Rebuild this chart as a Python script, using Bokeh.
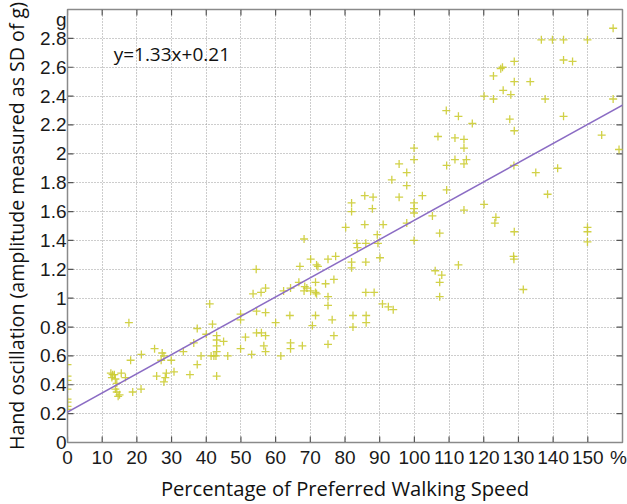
from bokeh.plotting import figure
from bokeh.models import Range1d, FixedTicker, Slope, Label, ColumnDataSource
from bokeh.embed import file_html
from bokeh.resources import INLINE

# Percentage of preferred walking speed (%)
speed = [
    0, 0, 0, 0, 0, 0, 0, 0,
    12.5, 13.0, 13.5, 12.8, 13.8, 14.2, 13.8, 14.2, 14.6, 15.0, 15.5, 16.7, 17.7, 18.2, 18.8,
    21.3, 21.2, 25.1, 25.7, 27.3, 27.8, 27.0, 28.5, 28.2, 27.8, 29.9,
    30.7, 33.4, 35.3, 36.4, 37.4, 37.4, 38.5, 40.0,
    41.0, 41.8, 41.4, 42.2, 42.8, 43.0, 43.0, 43.0, 43.0, 43.0, 45.0, 46.2, 49.9, 49.9, 49.9,
    51.3, 53.5, 54.4, 54.5, 54.5, 55.8, 55.9, 57.1, 57.1, 57.1, 56.6, 57.1, 53.1,
    60.0, 61.5, 62.3, 64.3, 64.1, 64.3, 64.3, 66.7, 67.0, 67.7, 68.2, 68.2, 68.4, 69.0,
    70.1, 70.1, 70.6, 71.5, 71.5, 71.5, 71.8, 72.2, 71.8, 74.4, 75.1, 75.1, 75.1, 75.1, 76.3, 76.8, 76.8, 77.3,
    80.2, 81.9, 81.9, 81.9, 81.9, 82.3, 82.3, 83.4, 83.6, 85.7, 85.7, 86.0, 86.0, 86.0, 86.1, 86.1, 87.9, 88.1, 88.4, 89.3, 89.5,
    90.1, 91.0, 90.8, 92.5, 93.9, 93.5, 95.6, 95.6, 97.8, 97.8, 97.8, 99.9, 99.9, 99.9, 99.9, 99.9, 99.9,
    102.3, 105.2, 106.0, 106.8, 107.3, 107.9, 107.3, 107.3, 109.2, 109.3, 109.3,
    111.7, 111.7, 112.7, 112.7, 114.3, 114.3, 114.3, 115.0, 114.3, 116.7,
    120.1, 120.1, 122.8, 122.8, 123.5, 123.2, 125.4, 124.9, 125.6, 127.5, 127.8, 128.8, 128.8, 128.8, 128.7, 128.8, 128.6, 128.7,
    131.4, 133.4, 135.0, 136.6, 137.7, 138.4, 139.8,
    141.3, 143.0, 143.0, 143.0, 145.6, 149.9, 149.9, 149.9, 149.9, 154.0, 157.3, 157.3, 159.0,
]

# Hand oscillation amplitude (SD of g)
amplitude = [
    0.54, 0.46, 0.43, 0.37, 0.30, 0.28, 0.25, 0.23,
    0.48, 0.47, 0.47, 0.45, 0.44, 0.41, 0.37, 0.35, 0.32, 0.33, 0.48, 0.45, 0.83, 0.57, 0.35,
    0.61, 0.37, 0.65, 0.46, 0.62, 0.60, 0.57, 0.48, 0.45, 0.42, 0.57,
    0.49, 0.63, 0.47, 0.69, 0.79, 0.54, 0.60, 0.75,
    0.96, 0.82, 0.60, 0.60, 0.60, 0.74, 0.71, 0.67, 0.63, 0.46, 0.70, 0.60, 0.89, 0.85, 0.65,
    0.73, 1.03, 1.20, 0.91, 0.76, 1.04, 0.76, 1.07, 0.90, 0.74, 0.67, 0.63, 0.61,
    0.83, 0.60, 1.05, 1.07, 0.88, 0.69, 0.65, 1.11, 1.22, 0.67, 1.41, 1.05, 1.08, 1.07,
    1.27, 1.05, 0.81, 1.11, 1.04, 0.88, 1.23, 1.22, 1.03, 1.10, 1.27, 1.01, 0.95, 0.68, 0.85, 1.13, 0.74, 1.29,
    1.49, 1.66, 1.60, 1.25, 1.21, 0.88, 0.80, 1.38, 1.35, 1.71, 1.51, 1.38, 1.25, 1.04, 0.88, 0.83, 1.62, 1.70, 1.04, 1.44, 1.38,
    1.28, 1.51, 0.96, 0.94, 0.92, 1.82, 1.93, 1.70, 1.87, 1.78, 1.52, 2.04, 1.96, 1.66, 1.62, 1.59, 1.40,
    1.71, 1.57, 1.19, 2.12, 1.45, 1.16, 1.11, 1.01, 2.30, 1.92, 1.75,
    2.11, 1.96, 2.26, 1.23, 2.10, 2.04, 1.93, 1.96, 1.61, 2.21,
    2.40, 1.65, 2.54, 2.38, 1.56, 1.52, 2.60, 2.59, 2.44, 2.24, 2.41, 2.64, 2.50, 2.16, 1.92, 1.46, 1.29, 1.27,
    1.06, 2.50, 1.87, 2.79, 2.38, 1.72, 2.79,
    1.90, 2.79, 2.65, 2.26, 2.64, 2.79, 1.49, 1.46, 1.39, 2.13, 2.87, 2.38, 2.03,
]

# Regression fit: y = 1.33 x + 0.21 (x as a fraction of preferred speed)
fit_slope = 1.33
fit_intercept = 0.21
fit_label = "y=1.33x+0.21"

x_ticks = [0, 10, 20, 30, 40, 50, 60, 70, 80, 90, 100, 110, 120, 130, 140, 150]
y_ticks = [0, 0.2, 0.4, 0.6, 0.8, 1.0, 1.2, 1.4, 1.6, 1.8, 2.0, 2.2, 2.4, 2.6, 2.8]
y_tick_labels = ["0", "0.2", "0.4", "0.6", "0.8", "1", "1.2", "1.4", "1.6", "1.8",
                 "2", "2.2", "2.4", "2.6", "2.8"]
x_unit, x_unit_at = "%", 158.8
y_unit, y_unit_at = "g", 2.93

X_MIN, X_MAX, Y_MIN, Y_MAX = 0, 160, 0, 3

TICK_FONT = "'Liberation Sans Narrow', 'Liberation Sans', sans-serif"
TITLE_FONT = "Open Sans"
FRAME = "#8a8a8a"
TICK_COLOR = "#555555"

p = figure(width=627, height=504, output_backend="svg", toolbar_location=None,
           x_range=Range1d(X_MIN, X_MAX), y_range=Range1d(Y_MIN, Y_MAX))
p.min_border_left = 67
p.min_border_right = 5
p.min_border_top = 9
p.min_border_bottom = 57

p.outline_line_color = FRAME
p.outline_line_width = 1.5

for ax in (p.xaxis[0], p.yaxis[0]):
    ax.axis_line_color = FRAME
    ax.major_tick_line_color = None
    ax.minor_tick_line_color = None
    ax.major_tick_in = 0
    ax.major_tick_out = 0
    ax.major_label_text_font = TICK_FONT
    ax.major_label_text_font_size = "19px"
    ax.major_label_text_color = "#1a1a1a"
    ax.axis_label_text_font = TITLE_FONT
    ax.axis_label_text_font_style = "normal"
    ax.axis_label_text_color = "#111111"

p.xaxis.ticker = FixedTicker(ticks=x_ticks + [x_unit_at])
p.xaxis.major_label_overrides = {x_unit_at: x_unit}
p.xaxis.axis_label = "Percentage of Preferred Walking Speed"
p.xaxis.axis_label_text_font_size = "20.2px"
p.xaxis.major_label_standoff = 4
p.xaxis.axis_label_standoff = 3

p.yaxis.ticker = FixedTicker(ticks=y_ticks + [y_unit_at])
overrides = dict(zip(y_ticks, y_tick_labels))
overrides[y_unit_at] = y_unit
p.yaxis.major_label_overrides = overrides
p.yaxis.axis_label = "Hand oscillation (amplitude measured as SD of g)"
p.yaxis.axis_label_text_font_size = "19.6px"
p.yaxis.major_label_standoff = 1
p.yaxis.axis_label_standoff = 7

p.xgrid.ticker = FixedTicker(ticks=x_ticks)
p.ygrid.ticker = FixedTicker(ticks=y_ticks)
for g in (p.xgrid[0], p.ygrid[0]):
    g.grid_line_color = "#9a9a9a"
    g.grid_line_dash = "1 2"
    g.grid_line_width = 1

# inward tick marks on all four borders (about 6 px long)
tx = 6 / 555 * (X_MAX - X_MIN)
ty = 6 / 439 * (Y_MAX - Y_MIN)
p.segment(x0=x_ticks, y0=[Y_MIN] * len(x_ticks), x1=x_ticks, y1=[Y_MIN + ty] * len(x_ticks),
          line_color=TICK_COLOR, line_width=1.2)
p.segment(x0=x_ticks, y0=[Y_MAX] * len(x_ticks), x1=x_ticks, y1=[Y_MAX - ty] * len(x_ticks),
          line_color=TICK_COLOR, line_width=1.2)
p.segment(x0=[X_MIN] * len(y_ticks), y0=y_ticks, x1=[X_MIN + tx] * len(y_ticks), y1=y_ticks,
          line_color=TICK_COLOR, line_width=1.2)
p.segment(x0=[X_MAX] * len(y_ticks), y0=y_ticks, x1=[X_MAX - tx] * len(y_ticks), y1=y_ticks,
          line_color=TICK_COLOR, line_width=1.2)

src = ColumnDataSource(dict(x=speed, y=amplitude))
p.scatter("x", "y", source=src, marker="cross", size=8, line_color="#cccc33",
          line_width=1.3, line_alpha=0.9)

p.add_layout(Slope(gradient=fit_slope / 100.0, y_intercept=fit_intercept,
                   line_color="#8b6cc4", line_width=1.5))

p.add_layout(Label(x=13.3, y=2.69, text=fit_label, text_font=TITLE_FONT,
                   text_font_size="19px", text_color="#111111",
                   text_baseline="middle", text_align="left"))

open("out.html", "w").write(file_html(p, INLINE))
